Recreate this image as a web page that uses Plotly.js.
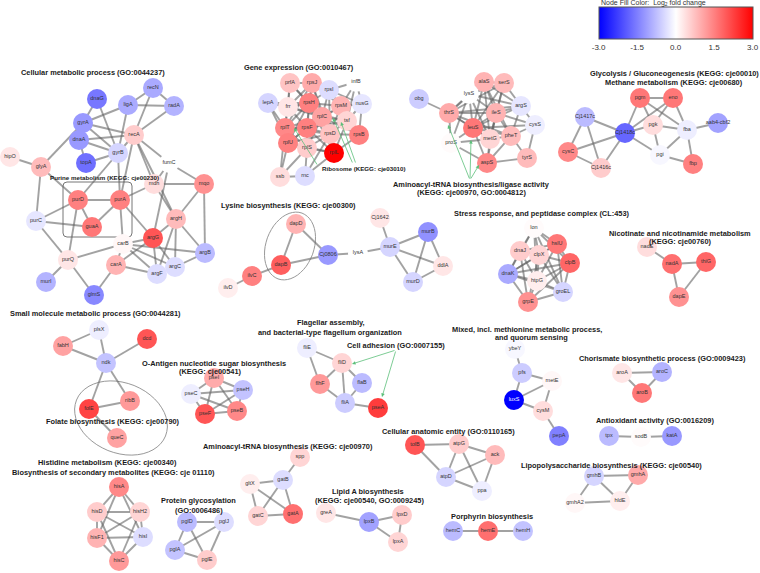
<!DOCTYPE html>
<html><head><meta charset="utf-8">
<script src="https://cdn.plot.ly/plotly-3.0.1.min.js"></script>
<style>body{margin:0;background:#fff}#chart{width:760px;height:573px}</style>
</head><body><div id="chart"></div>
<script>
// ---- data: node names and log2 fold change values ----
const nodeNames = [
 "dnaG","recN","ligA","radA","gyrA","recA","dnaA","gyrB","topA","hipO","glyA","fumC","mdh","mqo",
 "purD","purA","purC","guaA","argH","argG","carB","purQ","carA","argC","argF","murI","glmS","argB",
 "plsX","fabH","dcd","ndk","folE","ribB","queC",
 "hisA","hisD","hisH2","hisF1","hisI","hisC",
 "pglD","pglJ","pglA","pglE",
 "pseC","pseI","pseH","pseF","pseB",
 "fliE","fliD","flhF","flaB","fliA","pseA",
 "spp","gltX","gatB","gatC","gatA",
 "greA","lpxB","lpxD","lpxA",
 "tolB","atpG","ack","atpD","ppa",
 "hemC","hemE","hemH",
 "ybeY","pfs","metE","luxS","cysM","pepA",
 "aroA","aroC","aroB",
 "tpx","sodB","katA",
 "gmhB","gmhA","gmhA2","hldE",
 "nadE","nadA","thiG","dapE",
 "lon","dnaJ","clpX","hslU","clpB","dnaK","htpG","groEL","grpE",
 "Cj1642","murE","murB","ddlA","murD",
 "dapD","dapB","Cj0806","lysA","ilvC","ilvD",
 "prfA","rpsJ","rpsI","infB","lepA","frr","rpsH","rpsM","nusG","rplC","tsf","rplT","rpsF","rpsD","rpsB","rplU","rplS","rplL","ssb","rnc",
 "obg","alaS","serS","lysS","argS","thrS","ileS","cysS","leuS","pheT","metG","proS","aspS","tyrS",
 "pgm","eno","Cj1417c","pgk","fba","aab4-cbf2","Cj1418c","pgi","fbp","cysC","Cj1416c"
];
const nodeFC = [
 -1.6,-1.0,-1.0,-0.9,-1.2,0.6,-1.2,-0.5,-1.7,0.3,0.8,0.0,0.4,1.3,
 1.5,1.5,-0.3,1.6,0.8,2.0,0.1,0.3,0.9,-0.4,-0.4,-0.9,-1.4,-0.8,
 -0.2,1.1,2.0,-0.7,2.2,1.2,1.1,
 1.4,0.6,0.5,0.9,-0.4,1.2,
 -0.8,-0.4,-0.7,0.6,
 -0.2,1.0,-0.7,2.0,1.4,
 -0.2,0.5,1.2,-0.8,-0.6,2.3,
 0.5,0.2,-0.4,0.5,1.7,
 0.3,-1.1,0.6,0.5,
 2.0,0.6,0.8,-0.5,-0.2,
 -0.8,1.7,-0.7,
 -0.1,-0.6,0.1,-3.0,0.4,-1.5,
 0.3,-0.9,1.6,
 -0.8,0.05,-1.2,
 -0.5,1.0,0.1,0.2,
 0.4,1.7,1.8,1.3,
 0.05,0.6,0.5,1.6,1.8,-1.0,0.2,-0.5,1.3,
 0.3,-0.5,-1.3,0.3,-0.5,
 0.9,1.9,-1.2,0.0,1.5,0.2,
 0.7,1.0,-0.4,0.0,-0.5,0.3,1.5,0.9,-0.3,1.1,0.5,1.4,1.5,0.7,1.5,1.5,0.6,3.0,0.4,-0.4,
 -0.6,0.9,0.8,0.0,-0.3,1.0,0.9,-0.2,1.6,0.8,0.5,0.05,1.4,0.8,
 1.6,1.6,-0.8,0.4,-0.2,-1.1,-1.8,-0.1,1.5,1.4,0.6
];
// ---- network layout (node positions in picture coordinates) ----
const nodeX = [
 97,153,128,174,83,134,79,118,86,10,41,169,154,204,
 78,120,36,92,176,153,123,68,116,175,157,46,94,205,
 99,63,147,106,89,130,117,
 119,97,140,97,143,119,
 187,224,175,207,
 191,214,243,205,237,
 307,342,320,362,345,378,
 300,250,283,258,293,
 326,369,402,398,
 415,459,495,446,482,
 453,488,523,
 515,522,552,514,543,559,
 622,662,642,
 609,641,672,
 594,638,575,620,
 647,672,706,679,
 534,520,539,557,570,508,537,563,528,
 380,390,428,443,413,
 296,281,328,358,252,228,
 290,312,329,356,268,288,309,341,362,322,347,285,307,330,359,288,307,334,280,305,
 419,484,504,469,521,449,496,535,473,511,490,451,487,527,
 640,673,585,653,687,718,625,660,693,568,601
];
const nodeY = [
 99,88,105,106,123,135,140,153,163,157,167,163,184,184,
 200,200,221,227,219,238,244,260,265,267,274,282,295,253,
 330,346,339,363,409,401,438,
 487,512,512,538,537,561,
 522,522,550,560,
 394,378,390,414,411,
 348,363,384,383,403,408,
 457,484,480,516,514,
 513,522,515,542,
 445,444,455,477,491,
 531,531,531,
 349,373,381,400,411,436,
 373,372,393,
 436,437,436,
 476,475,503,501,
 247,264,262,297,
 228,251,255,244,263,274,281,292,302,
 218,247,232,266,282,
 224,265,255,253,276,288,
 83,83,90,82,103,107,103,106,104,117,121,128,128,134,135,143,148,153,177,176,
 99,82,83,94,106,113,113,125,128,136,139,143,163,158,
 98,98,117,125,130,123,133,155,164,152,168
];
// ---- interactions (edges) ----
const edges = [
 "dnaG|gyrA","dnaG|gyrB","recN|ligA","recN|radA","ligA|radA","recN|recA","ligA|gyrA","ligA|gyrB","radA|recA",
 "gyrA|dnaA","gyrA|recA","gyrA|gyrB","dnaA|recA","dnaA|gyrB","dnaA|topA","topA|gyrB","gyrB|recA","gyrA|glyA",
 "glyA|hipO","glyA|purC","glyA|purD","recA|fumC","recA|mdh","recA|purA","recA|argH","gyrB|purA","gyrB|purD",
 "fumC|mdh","fumC|mqo","fumC|argG","mdh|mqo","mdh|purA","mdh|argH","mqo|argH","mqo|argB",
 "purD|purA","purD|guaA","purA|guaA","purD|purC","purD|purQ","purA|carB","purA|argG","purC|guaA","purC|purQ",
 "purQ|carB","purQ|glmS","purQ|murI","carB|carA","carB|argG","carB|argF","carB|argC","carB|argB","carA|glmS",
 "carA|argG","carA|argF","argG|argH","argG|argF","argG|argC","argH|argC","argH|argF","argB|argC","argB|argH",
 "plsX|fabH","plsX|ndk","fabH|ndk","dcd|ndk","ndk|folE","ndk|ribB","folE|ribB","folE|queC",
 "hisA|hisD","hisA|hisH2","hisA|hisF1","hisA|hisI","hisD|hisH2","hisD|hisF1","hisD|hisI","hisH2|hisF1",
 "hisH2|hisI","hisF1|hisI","hisF1|hisC","hisI|hisC","hisD|hisC","hisH2|hisC",
 "pglD|pglJ","pglD|pglA","pglD|pglE","pglJ|pglA","pglJ|pglE","pglA|pglE",
 "pseC|pseI","pseC|pseH","pseC|pseF","pseC|pseB","pseI|pseH","pseI|pseF","pseI|pseB","pseH|pseF","pseH|pseB","pseF|pseB",
 "fliE|fliD","fliE|flhF","fliD|flhF","fliD|flaB","flhF|fliA","flaB|fliA","fliA|pseA","fliD|fliA",
 "spp|gatB","gltX|gatB","gltX|gatC","gltX|gatA","gatB|gatC","gatB|gatA","gatC|gatA",
 "greA|lpxB","lpxB|lpxD","lpxB|lpxA","lpxD|lpxA",
 "tolB|atpG","tolB|atpD","atpG|ack","atpG|atpD","atpG|ppa","atpD|ack","atpD|ppa","ack|ppa",
 "hemC|hemE","hemE|hemH",
 "ybeY|pfs","pfs|metE","pfs|luxS","metE|cysM","luxS|cysM","cysM|pepA","luxS|metE",
 "aroA|aroC","aroA|aroB","aroC|aroB",
 "tpx|sodB","sodB|katA",
 "gmhB|gmhA","gmhB|gmhA2","gmhB|hldE","gmhA|hldE","gmhA2|hldE",
 "nadE|nadA","nadA|thiG","nadA|dapE","thiG|dapE",
 "lon|dnaJ","lon|clpX","lon|hslU","lon|clpB","lon|dnaK","lon|htpG","lon|groEL","dnaJ|clpX","dnaJ|dnaK","dnaJ|htpG",
 "dnaJ|grpE","dnaJ|hslU","clpX|hslU","clpX|clpB","clpX|dnaK","clpX|htpG","clpX|groEL","clpX|grpE","hslU|clpB",
 "hslU|dnaK","hslU|htpG","hslU|groEL","clpB|dnaK","clpB|htpG","clpB|groEL","clpB|grpE","dnaK|htpG","dnaK|groEL",
 "dnaK|grpE","htpG|groEL","htpG|grpE","groEL|grpE",
 "Cj1642|murE","murE|murB","murE|ddlA","murE|murD","murB|ddlA","murB|murD","murD|ddlA","murE|lysA",
 "dapD|dapB","dapD|Cj0806","dapB|Cj0806","dapB|ilvC","ilvC|ilvD","Cj0806|lysA",
 "prfA|rpsJ","prfA|frr","prfA|rpsH","prfA|rplT","prfA|rplC",
 "rpsJ|rpsH","rpsJ|rpsI","rpsJ|rplC","rpsJ|rpsF","rpsJ|rplT","rpsJ|rpsM","rpsJ|frr","rpsJ|rpsD",
 "rpsI|rpsH","rpsI|rpsM","rpsI|rplC","rpsI|infB","rpsI|rpsD","rpsI|nusG",
 "infB|nusG","infB|rpsM","infB|tsf",
 "lepA|frr","lepA|rplT","lepA|rpsH","lepA|rplU",
 "frr|rpsH","frr|rplT","frr|rpsF","frr|rplC","frr|tsf",
 "rpsH|rplC","rpsH|rpsF","rpsH|rplT","rpsH|rpsD","rpsH|rplU","rpsH|rpsM","rpsH|rplL",
 "rpsM|rplC","rpsM|tsf","rpsM|rpsD","rpsM|rpsB","rpsM|nusG","rpsM|rpsF",
 "nusG|tsf","nusG|rpsB",
 "rplC|rpsF","rplC|rpsD","rplC|rplT","rplC|tsf","rplC|rplU","rplC|rplS","rplC|rplL","rplC|rpsB",
 "tsf|rpsD","tsf|rpsB","tsf|rplL","tsf|rpsF",
 "rplT|rpsF","rplT|rplU","rplT|rplS","rplT|rpsD",
 "rpsF|rpsD","rpsF|rplU","rpsF|rplS","rpsF|rplL",
 "rpsD|rplL","rpsD|rplS","rpsD|rpsB","rpsD|rplU",
 "rplU|rplS","rplU|rplL","rplS|rplL","rpsB|rplL",
 "ssb|rnc","ssb|rplU","ssb|rplS","rnc|rplS","rnc|rplL","rnc|rpsD","ssb|rplT",
 "obg|thrS",
 "alaS|serS","alaS|lysS","alaS|ileS","alaS|thrS","alaS|leuS","alaS|argS","alaS|metG","alaS|pheT",
 "serS|lysS","serS|ileS","serS|argS","serS|thrS","serS|leuS","serS|metG",
 "lysS|thrS","lysS|ileS","lysS|leuS","lysS|argS","lysS|metG","lysS|proS",
 "argS|ileS","argS|cysS","argS|pheT","argS|leuS","argS|thrS",
 "thrS|ileS","thrS|leuS","thrS|proS","thrS|metG","thrS|pheT",
 "ileS|leuS","ileS|metG","ileS|pheT","ileS|cysS","ileS|aspS",
 "cysS|pheT","cysS|leuS","cysS|tyrS",
 "leuS|metG","leuS|proS","leuS|aspS","leuS|pheT",
 "pheT|metG","pheT|tyrS","pheT|aspS",
 "metG|aspS","metG|proS","aspS|tyrS","proS|aspS",
 "pgm|eno","pgm|Cj1418c","pgm|pgk","pgm|fba","eno|pgk","eno|fba","eno|Cj1418c",
 "Cj1417c|Cj1418c","Cj1417c|Cj1416c","Cj1417c|cysC","Cj1418c|cysC","Cj1418c|Cj1416c","Cj1418c|pgk","Cj1418c|pgi",
 "pgk|fba","pgk|pgi","fba|pgi","fba|fbp","fba|aab4-cbf2","pgi|fbp","cysC|Cj1416c"
];
// ---- group titles ----
const titleTexts = [
 "Cellular metabolic process (GO:0044237)","Gene expression (GO:0010467)",
 "Aminoacyl-tRNA biosynthesis/ligase activity","(KEGG: cje00970, GO:0004812)",
 "Glycolysis / Gluconeogenesis (KEGG: cje00010)","Methane metabolism (KEGG: cje00680)",
 "Lysine biosynthesis (KEGG: cje00300)","Stress response, and peptidase complex (CL:453)",
 "Nicotinate and nicotinamide metabolism","(KEGG: cje00760)",
 "Small molecule metabolic process (GO:0044281)","Flagellar assembly,","and bacterial-type flagellum organization",
 "Cell adhesion (GO:0007155)","O-Antigen nucleotide sugar biosynthesis","(KEGG: cje00541)",
 "Mixed, incl. methionine metabolic process,","and quorum sensing",
 "Chorismate biosynthetic process (GO:0009423)","Folate biosynthesis (KEGG: cje00790)",
 "Antioxidant activity (GO:0016209)","Histidine metabolism (KEGG: cje00340)",
 "Biosynthesis of secondary metabolites (KEGG: cje 01110)","Aminoacyl-tRNA biosynthesis (KEGG: cje00970)",
 "Cellular anatomic entity (GO:0110165)","Lipopolysaccharide biosynthesis (KEGG: cje00540)",
 "Lipid A biosynthesis","(KEGG: cje00540, GO:0009245)","Protein glycosylation","(GO:0006486)",
 "Porphyrin biosynthesis"
];
const titleX = [93,299,471,471,674,674,288,542,680,680,95,331,330,396,214,210,527,531,662,113,655,107,113,288,448,611,368,369,198,199,492];
const titleY = [72,67,184,192,73,82,205,213,233,241,313,322,332,345,363,371,329,337,358,421,420,462,472,446,431,465,491,500,500,510,516];
const subTitles = ["Purine metabolism (KEGG: cje00230)","Ribosome (KEGG: cje03010)"];
const cbTicks = [-3,-1.5,0,1.5,3];
const cbTickText = ["-3.0","-1.5","0.0","1.5","3.0"];

// ---- build ----
const idx = {}; nodeNames.forEach((n,i)=>idx[n]=i);
const ex=[], ey=[];
edges.forEach(e=>{const [a,b]=e.split("|"); const i=idx[a], j=idx[b]; if(i===undefined||j===undefined) return;
  ex.push(nodeX[i],nodeX[j],null); ey.push(nodeY[i],nodeY[j],null);});
const FONT='Liberation Sans, Arial, sans-serif';
const edgeTrace = {x:ex,y:ey,mode:'lines',type:'scatter',line:{color:'rgba(100,100,100,0.6)',width:1.9},hoverinfo:'skip',showlegend:false};
const textCols = nodeFC.map(v=>v<=-2.2?'#ffffff':'#333333');
const nodeTrace = {x:nodeX,y:nodeY,text:nodeNames,mode:'markers+text',type:'scatter',textposition:'middle center',
  textfont:{size:5.5,color:textCols,family:FONT},cliponaxis:false,showlegend:false,
  marker:{size:20,color:nodeFC,cmin:-3,cmax:3,colorscale:[[0,'rgb(0,0,255)'],[0.5,'rgb(255,255,255)'],[1,'rgb(255,0,0)']],
    line:{width:0},
    colorbar:{orientation:'h',x:0.889,xanchor:'center',y:1-7/573,yanchor:'top',len:154/760,lenmode:'fraction',
      thickness:32,outlinewidth:1,outlinecolor:'#555',tickvals:cbTicks,ticktext:cbTickText,ticks:'',
      tickfont:{size:8,color:'#333',family:FONT},xpad:0,ypad:0,borderwidth:0}}};

const ann = [];
titleTexts.forEach((t,i)=>ann.push({x:titleX[i],y:titleY[i],text:'<b>'+t+'</b>',showarrow:false,xanchor:'center',yanchor:'middle',
  font:{size:7.4,color:'#1a1a1a',family:FONT}}));
ann.push({x:104,y:177,text:'<b>'+subTitles[0]+'</b>',showarrow:false,xanchor:'center',yanchor:'middle',font:{size:6.2,color:'#1a1a1a',family:FONT}});
ann.push({x:320,y:168,text:'<b>'+subTitles[1]+'</b>',showarrow:false,xanchor:'left',yanchor:'middle',font:{size:6.2,color:'#1a1a1a',family:FONT}});
ann.push({xref:'paper',yref:'paper',x:599/760,y:1-3/573,text:'Node Fill Color:  Log<sub>2</sub> fold change',showarrow:false,xanchor:'left',yanchor:'middle',
  font:{size:7,color:'#333',family:FONT}});
// green arrows (head, tail)
const arrows = [[294,128,318,166],[333,118,353,164],[341,122,356,164],
  [448,125,470,180],[471,140,470,180],[479,165,470,180],
  [352,364,396,350],[382,397,396,350]];
arrows.forEach(a=>ann.push({x:a[0],y:a[1],ax:a[2],ay:a[3],axref:'x',ayref:'y',xref:'x',yref:'y',text:'',showarrow:true,
  arrowhead:2,arrowsize:0.9,arrowwidth:0.8,arrowcolor:'#5cbf7a'}));

function ellipsePath(cx,cy,rx,ry,deg){const r=deg*Math.PI/180;let p='';for(let k=0;k<=48;k++){const t=k/48*2*Math.PI;
  const x=rx*Math.cos(t), y=ry*Math.sin(t);const X=cx+x*Math.cos(r)-y*Math.sin(r), Y=cy+x*Math.sin(r)+y*Math.cos(r);
  p+=(k?'L':'M')+X.toFixed(1)+','+Y.toFixed(1);}return p+'Z';}
const shapes = [
 {type:'path',xref:'x',yref:'y',path:'M67,182 L128,182 Q132,182 132,186 L132,233 Q132,237 128,237 L67,237 Q63,237 63,233 L63,186 Q63,182 67,182 Z',line:{color:'#777',width:1},layer:'below'},
 {type:'path',xref:'x',yref:'y',path:ellipsePath(290,246,24,35,20),line:{color:'#999',width:1},layer:'below'},
 {type:'path',xref:'x',yref:'y',path:ellipsePath(121,418,48,35,22),line:{color:'#999',width:1},layer:'below'}
];
const layout = {width:760,height:573,margin:{l:0,r:0,t:0,b:0},paper_bgcolor:'#fff',plot_bgcolor:'#fff',
  xaxis:{range:[0,760],visible:false,fixedrange:true},yaxis:{range:[573,0],visible:false,fixedrange:true},
  annotations:ann,shapes:shapes,showlegend:false};
Plotly.newPlot('chart',[edgeTrace,nodeTrace],layout,{displayModeBar:false,staticPlot:true});
</script></body></html>
